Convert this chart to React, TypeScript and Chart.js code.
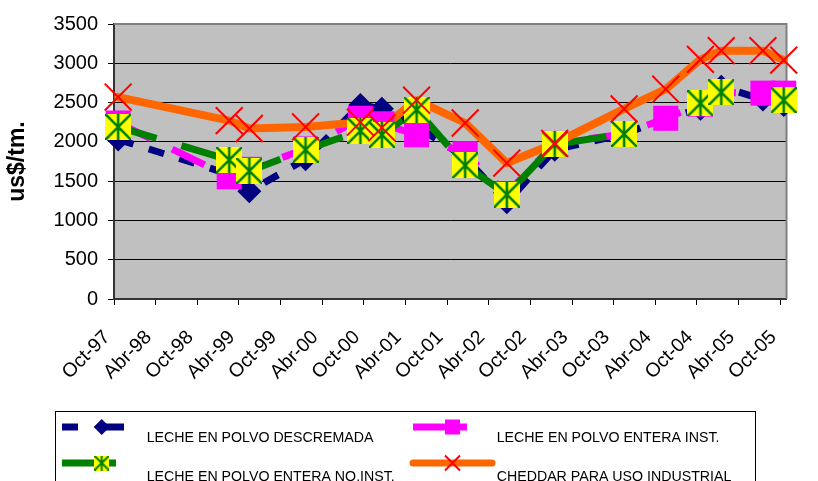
import React, { useEffect, useRef } from "react";
import { Chart, registerables } from "chart.js";

Chart.register(...registerables);

// ---- data ----
// x axis: months counted from Oct-97 (tick every 6 months)
const xTickMonths = [0, 6, 12, 18, 24, 30, 36, 42, 48, 54, 60, 66, 72, 78, 84, 90, 96];
const xTickLabels = [
  "Oct-97", "Abr-98", "Oct-98", "Abr-99", "Oct-99", "Abr-00", "Oct-00", "Abr-01", "Oct-01",
  "Abr-02", "Oct-02", "Abr-03", "Oct-03", "Abr-04", "Oct-04", "Abr-05", "Oct-05",
];
const xAxisMin = 0;
const xAxisMax = 96.9;

// observation dates (months from Oct-97)
const pointMonths = [0.6, 16.6, 19.5, 27.6, 35.5, 38.6, 43.6, 50.6, 56.6, 63.5, 73.5, 79.5, 84.5, 87.5, 93.5, 96.5];

const descremada = [2030, 1590, 1370, 1780, 2470, 2420, 2200, 1800, 1230, 1900, 2100, 2300, 2420, 2700, 2540, 2470];
const enteraInst = [2240, 1555, 1650, 1910, 2300, 2230, 2090, 1850, 1340, 1980, 2100, 2300, 2480, 2630, 2620, 2620];
const enteraNoInst = [2190, 1770, 1630, 1900, 2140, 2090, 2410, 1700, 1330, 1970, 2100, null, 2490, 2630, null, 2530];
const cheddar = [2570, 2270, 2170, 2190, 2250, 2180, 2530, 2240, 1730, 1980, 2420, 2670, 3050, 3160, 3160, 3040];

const seriesNames = [
  "LECHE EN POLVO DESCREMADA",
  "LECHE EN POLVO ENTERA INST.",
  "LECHE EN POLVO ENTERA NO.INST.",
  "CHEDDAR PARA USO INDUSTRIAL",
];

const yMin = 0;
const yMax = 3500;
const yStep = 500;
const yTitle = "us$/tm.";

// ---- styles ----
const NAVY = "#000080";
const PINK = "#FF00FF";
const GREEN = "#008000";
const ORANGE = "#FF6600";
const RED = "#FF0000";
const YELLOW = "#FFFF00";
const PLOT_BG = "#C0C0C0";
const FONT = "'Liberation Sans', Arial, sans-serif";

function toPoints(values: (number | null)[]) {
  return pointMonths.map((m, i) => ({ x: m, y: values[i] }));
}

function makeStarMarker(size: number, lw: number) {
  const c = document.createElement("canvas");
  c.width = size;
  c.height = size;
  const g = c.getContext("2d")!;
  g.fillStyle = YELLOW;
  g.fillRect(0, 0, size, size);
  g.strokeStyle = GREEN;
  g.lineWidth = lw;
  g.beginPath();
  g.moveTo(0, 0);
  g.lineTo(size, size);
  g.moveTo(size, 0);
  g.lineTo(0, size);
  g.moveTo(size / 2, 0);
  g.lineTo(size / 2, size);
  g.stroke();
  return c;
}

export default function App() {
  const ref = useRef<HTMLCanvasElement>(null);

  useEffect(() => {
    const canvas = ref.current!;
    const star = makeStarMarker(26, 2.6);
    const starSmall = makeStarMarker(15, 2);

    const decorPlugin = {
      id: "decor",
      beforeDraw(chart: any) {
        const { ctx, chartArea: a } = chart;
        ctx.save();
        ctx.fillStyle = PLOT_BG;
        ctx.fillRect(a.left, a.top, a.right - a.left, a.bottom - a.top);
        ctx.restore();
      },
      beforeDatasetsDraw(chart: any) {
        const { ctx, chartArea: a } = chart;
        ctx.save();
        ctx.strokeStyle = "#808080";
        ctx.lineWidth = 2;
        ctx.beginPath();
        ctx.moveTo(a.left, a.top);
        ctx.lineTo(a.right, a.top);
        ctx.lineTo(a.right, a.bottom);
        ctx.stroke();
        ctx.restore();
      },
      afterDraw(chart: any) {
        const ctx: CanvasRenderingContext2D = chart.ctx;
        ctx.save();
        // legend box
        ctx.strokeStyle = "#000000";
        ctx.lineWidth = 1;
        ctx.strokeRect(55.5, 411.5, 700, 100);

        const r1 = 427;
        const r2 = 463;
        // navy sample
        ctx.fillStyle = NAVY;
        ctx.fillRect(62, r1 - 3.5, 16, 7);
        ctx.fillRect(102, r1 - 3.5, 22, 7);
        ctx.beginPath();
        ctx.moveTo(101.7 - 8, r1);
        ctx.lineTo(101.7, r1 - 8);
        ctx.lineTo(101.7 + 8, r1);
        ctx.lineTo(101.7, r1 + 8);
        ctx.closePath();
        ctx.fill();
        // pink sample
        ctx.fillStyle = PINK;
        ctx.fillRect(413, r1 - 3.5, 54, 7);
        ctx.fillRect(452.5 - 7.5, r1 - 7.5, 15, 15);
        // green sample
        ctx.fillStyle = GREEN;
        ctx.fillRect(62, r2 - 3.5, 54, 7);
        ctx.drawImage(starSmall, 101.7 - 7.5, r2 - 7.5);
        // orange sample
        ctx.strokeStyle = ORANGE;
        ctx.lineWidth = 7;
        ctx.lineCap = "round";
        ctx.beginPath();
        ctx.moveTo(413, r2);
        ctx.lineTo(492, r2);
        ctx.stroke();
        ctx.strokeStyle = RED;
        ctx.lineWidth = 2;
        ctx.lineCap = "butt";
        ctx.beginPath();
        ctx.moveTo(452.5 - 7.5, r2 - 7.5);
        ctx.lineTo(452.5 + 7.5, r2 + 7.5);
        ctx.moveTo(452.5 + 7.5, r2 - 7.5);
        ctx.lineTo(452.5 - 7.5, r2 + 7.5);
        ctx.stroke();

        // legend texts
        ctx.fillStyle = "#000000";
        ctx.font = `14.2px ${FONT}`;
        ctx.textAlign = "left";
        ctx.textBaseline = "alphabetic";
        ctx.fillText(seriesNames[0], 146.7, 441.7);
        ctx.fillText(seriesNames[1], 496.7, 441.7);
        ctx.fillText(seriesNames[2], 146.7, 480.5);
        ctx.fillText(seriesNames[3], 496.7, 480.5);
        ctx.restore();
      },
    };

    const lineBase = {
      type: "line" as const,
      pointRadius: 0,
      pointHoverRadius: 0,
      fill: false,
      tension: 0,
      spanGaps: false,
      clip: false as any,
    };
    const markerBase = {
      type: "line" as const,
      showLine: false,
      fill: false,
      clip: false as any,
    };

    const chart = new Chart(canvas, {
      type: "line",
      data: {
        datasets: [
          // lines (drawn first, underneath all markers)
          { ...lineBase, label: seriesNames[0], data: toPoints(descremada), borderColor: NAVY, borderWidth: 7, borderDash: [16, 16], borderCapStyle: "butt", borderJoinStyle: "miter", order: 7 },
          { ...lineBase, label: seriesNames[1], data: toPoints(enteraInst), borderColor: PINK, borderWidth: 7, borderDash: [36, 24], borderCapStyle: "butt", borderJoinStyle: "miter", order: 6 },
          { ...lineBase, label: seriesNames[2], data: toPoints(enteraNoInst), borderColor: GREEN, borderWidth: 7, borderDash: [40, 26], borderCapStyle: "butt", borderJoinStyle: "miter", order: 5 },
          { ...lineBase, label: seriesNames[3], data: toPoints(cheddar), borderColor: ORANGE, borderWidth: 8, borderCapStyle: "round", borderJoinStyle: "round", order: 4 },
          // markers
          { ...markerBase, label: seriesNames[0] + " m", data: toPoints(descremada), pointStyle: "rectRot", pointRadius: 12, pointBackgroundColor: NAVY, pointBorderColor: NAVY, pointBorderWidth: 0, order: 3 },
          { ...markerBase, label: seriesNames[1] + " m", data: toPoints(enteraInst), pointStyle: "rect", pointRadius: 17.7, pointBackgroundColor: PINK, pointBorderColor: PINK, pointBorderWidth: 0, order: 2 },
          { ...markerBase, label: seriesNames[2] + " m", data: toPoints(enteraNoInst), pointStyle: star as any, pointRadius: 13, order: 1 },
          { ...markerBase, label: seriesNames[3] + " m", data: toPoints(cheddar), pointStyle: "crossRot", pointRadius: 19, pointBorderColor: RED, pointBackgroundColor: RED, pointBorderWidth: 2, order: 0 },
        ] as any,
      },
      options: {
        responsive: false,
        animation: false,
        events: [],
        layout: { padding: { left: 0, top: 24, right: 8, bottom: 0 } },
        plugins: {
          legend: { display: false },
          tooltip: { enabled: false },
        },
        scales: {
          x: {
            type: "linear",
            min: xAxisMin,
            max: xAxisMax,
            afterFit(scale: any) {
              scale.height = 182;
            },
            afterBuildTicks(scale: any) {
              scale.ticks = xTickMonths.map((v) => ({ value: v }));
            },
            grid: {
              drawOnChartArea: false,
              drawTicks: true,
              tickLength: 6,
              color: "#000000",
              tickColor: "#000000",
            },
            border: { display: true, color: "#333333", width: 2 },
            ticks: {
              autoSkip: false,
              minRotation: 45,
              maxRotation: 45,
              padding: 21,
              labelOffset: -7,
              color: "#000000",
              font: { family: FONT, size: 19.5 },
              callback: (_v: any, i: number) => xTickLabels[i],
            },
          },
          y: {
            type: "linear",
            min: yMin,
            max: yMax,
            afterFit(scale: any) {
              scale.width = 114;
            },
            grid: {
              color: (c: any) => (c.tick && c.tick.value === yMax ? "rgba(0,0,0,0)" : "#000000"),
              tickColor: "#000000",
              lineWidth: 1,
              tickLength: 6,
            },
            border: { display: true, color: "#333333", width: 2 },
            ticks: {
              stepSize: yStep,
              padding: 10,
              color: "#000000",
              font: { family: FONT, size: 20 },
              callback: (v: any) => String(v),
            },
            title: {
              display: true,
              text: yTitle,
              color: "#000000",
              font: { family: FONT, size: 23, weight: "bold" },
              padding: { top: 4, bottom: 0 },
            },
          },
        },
      },
      plugins: [decorPlugin],
    } as any);

    return () => chart.destroy();
  }, []);

  return (
    <canvas
      ref={ref}
      width={818}
      height={481}
      style={{ position: "fixed", left: 0, top: 0, width: 818, height: 481, display: "block" }}
    />
  );
}
